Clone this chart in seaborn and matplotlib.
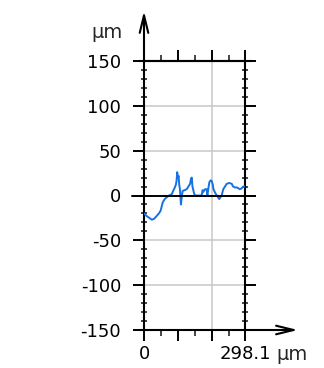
import matplotlib
matplotlib.use("Agg")
import matplotlib.pyplot as plt
import seaborn as sns
import pandas as pd
from matplotlib.ticker import FixedLocator, MultipleLocator

# profile data (µm along profile, height in µm)
x_um = [0, 8, 16, 23, 30, 37, 44, 49, 55, 61, 67, 74, 82, 86, 91, 94, 96, 98, 100,
        102, 104, 106, 109, 112, 114, 120, 126, 131, 136, 139, 141, 143, 145, 148,
        151, 158, 164, 170, 173, 175, 180, 185, 187, 190, 193, 197, 200, 203, 205,
        210, 215, 222, 229, 234, 239, 244, 252, 259, 263, 268, 274, 279, 283, 288,
        293, 298.1]
height_um = [-20, -23, -25, -27, -26, -23, -20, -17, -8, -4, -2, 0, 1.5, 5, 9, 12,
             16, 26, 20, 22, 12, 7, -10, 0, 5, 6, 7, 10, 13, 19, 20, 10, 7, 2,
             0, 0, 0, 0, 6, 4, 7, 7, 0, 8, 15, 17, 16, 12, 7, 3, 0, -4, 0, 7, 10, 13,
             14, 13, 10, 9, 9, 8, 7, 8, 10, 10]

y_ticks = [-150, -100, -50, 0, 50, 100, 150]
x_tick_pos = [0, 100, 200, 298.1]
x_tick_labels = ["0", "", "", "298.1"]
x_max = 298.1

sns.set_style("white")
plt.rcParams["font.family"] = ["DejaVu Sans"]
plt.rcParams["axes.unicode_minus"] = False

W, H = 324, 368
fig = plt.figure(figsize=(W / 100, H / 100), dpi=100)
L, R, T, B = 144, 245, 61, 330
ax = fig.add_axes([L / W, 1 - B / H, (R - L) / W, (B - T) / H])

df = pd.DataFrame({"x": x_um, "h": height_um})

# grid lines
for g in [-100, -50, 50, 100]:
    ax.axhline(g, color="#c8c8c8", lw=1.1, zorder=0)
ax.axvline(200, color="#c8c8c8", lw=1.1, zorder=0)

sns.lineplot(data=df, x="x", y="h", ax=ax, color="#1672e0", lw=1.4, zorder=3)

ax.set_xlim(0, x_max)
ax.set_ylim(-150, 150)
ax.set_xlabel("")
ax.set_ylabel("")

# zero line extended beyond axes
ax.plot([-0.12, 1.1], [0.5, 0.5], transform=ax.transAxes, color="black",
        lw=1.4, clip_on=False, zorder=4)

for s in ax.spines.values():
    s.set_color("black")
    s.set_linewidth(1.5)

# y ticks
ax.yaxis.set_major_locator(FixedLocator(y_ticks))
ax.yaxis.set_minor_locator(MultipleLocator(10))
ax.tick_params(axis="y", which="major", direction="out", length=8, width=1.4,
               left=True, right=True, labelsize=13, pad=8.5, colors="black")
ax.tick_params(axis="y", which="minor", direction="inout", length=4.5, width=1.2,
               left=True, right=True)
# x ticks
ax.xaxis.set_major_locator(FixedLocator(x_tick_pos))
ax.set_xticklabels(x_tick_labels)
ax.xaxis.set_minor_locator(FixedLocator([50, 150, 250]))
ax.tick_params(axis="x", which="major", direction="out", length=8, width=1.4,
               top=True, bottom=True, labelsize=13, pad=2.5, colors="black")
ax.tick_params(axis="x", which="minor", direction="out", length=4.5, width=1.2,
               top=True, bottom=True)

# extensions of top and bottom lines
ax.plot([-0.05, 1.07], [1, 1], transform=ax.transAxes, color="black", lw=1.5,
        clip_on=False)
ax.plot([-0.05, 0], [0, 0], transform=ax.transAxes, color="black", lw=1.5,
        clip_on=False)

# axis arrows
ax.annotate("", xy=(0, 1 + 50 / (B - T)), xytext=(0, 1), xycoords="axes fraction",
            arrowprops=dict(arrowstyle="->,head_length=0.9,head_width=0.22",
                        lw=1.5, color="black", shrinkA=0, shrinkB=0,
                        mutation_scale=14))
ax.annotate("", xy=(1 + 53 / (R - L), 0), xytext=(1, 0), xycoords="axes fraction",
            arrowprops=dict(arrowstyle="->,head_length=0.9,head_width=0.22",
                        lw=1.5, color="black", shrinkA=0, shrinkB=0,
                        mutation_scale=14))

fig.text(123 / W, 1 - 33 / H, "µm", ha="right", va="center", fontsize=14)
fig.text(276 / W, 1 - 355 / H, "µm", ha="left", va="center", fontsize=14)

fig.savefig("out.png", dpi=100)
